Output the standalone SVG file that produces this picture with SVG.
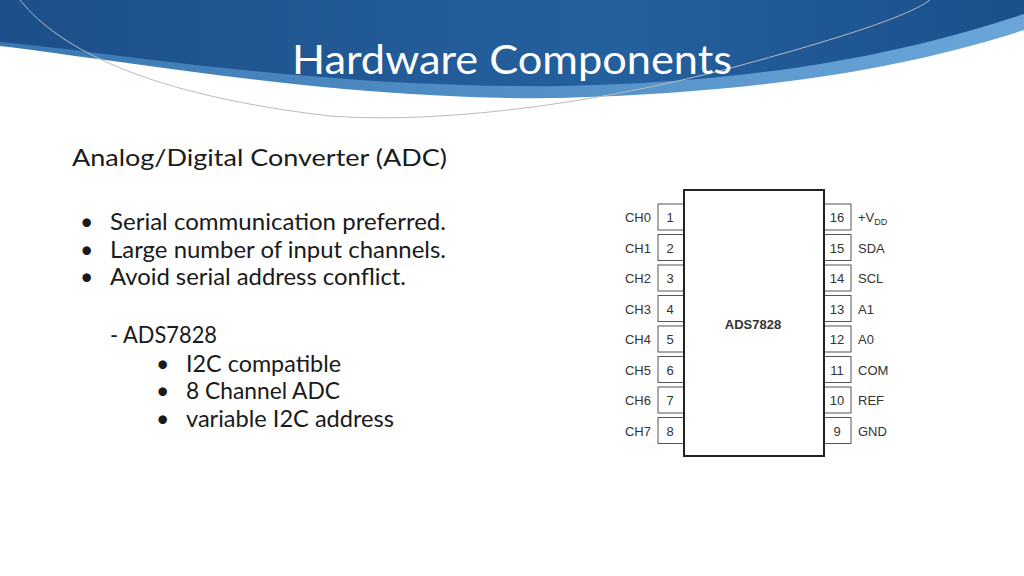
<svg xmlns="http://www.w3.org/2000/svg" width="1024" height="576" viewBox="0 0 1024 576">
<defs>
<linearGradient id="bg" x1="0" y1="0" x2="1" y2="0">
<stop offset="0" stop-color="#1d4f8a"/><stop offset="0.6" stop-color="#24609e"/><stop offset="1" stop-color="#1b4f8c"/>
</linearGradient>
<linearGradient id="lb" x1="0" y1="0" x2="1" y2="0">
<stop offset="0" stop-color="#3a78b4"/><stop offset="1" stop-color="#6aa6d8"/>
</linearGradient>
</defs>
<style>
.t{font-family:Lato,"Liberation Sans",sans-serif;fill:#1a1a1a;font-size:23px}
.p{font-family:"Liberation Sans",Arial,sans-serif;font-size:13px;fill:#333}
.pin{fill:#fff;stroke:#555;stroke-width:1}
</style>
<rect width="1024" height="576" fill="#fff"/>
<path d="M0,0 H1024 V30 C900,70 760,92 560,98 C400,100 250,80 120,62 C60,54 20,48 0,46 Z" fill="url(#lb)"/>
<path d="M0,0 H1024 V14 C900,55 760,82 560,86 C400,88 250,72 120,56 C60,48 20,44 0,42 Z" fill="url(#bg)"/>
<path d="M20,0 C60,50 150,95 330,116 C450,125 620,100 760,60 C850,35 910,15 930,0" fill="none" stroke="#bbb" stroke-width="1"/>
<text x="512" y="74" text-anchor="middle" font-family="Lato,'Open Sans',sans-serif" font-size="40" fill="#fff" textLength="440" lengthAdjust="spacingAndGlyphs">Hardware Components</text>
<text class="t" x="72" y="166" textLength="375" lengthAdjust="spacingAndGlyphs">Analog/Digital Converter (ADC)</text>
<g class="t">
<text x="80" y="230">•</text><text x="110" y="230" textLength="336" lengthAdjust="spacingAndGlyphs">Serial communication preferred.</text>
<text x="80" y="258">•</text><text x="110" y="258" textLength="336" lengthAdjust="spacingAndGlyphs">Large number of input channels.</text>
<text x="80" y="285">•</text><text x="110" y="285" textLength="296" lengthAdjust="spacingAndGlyphs">Avoid serial address conflict.</text>
<text x="110" y="343" textLength="107" lengthAdjust="spacingAndGlyphs">- ADS7828</text>
<text x="156" y="372">•</text><text x="186" y="372" textLength="155" lengthAdjust="spacingAndGlyphs">I2C compatible</text>
<text x="156" y="399">•</text><text x="186" y="399" textLength="154" lengthAdjust="spacingAndGlyphs">8 Channel ADC</text>
<text x="156" y="427">•</text><text x="186" y="427" textLength="208" lengthAdjust="spacingAndGlyphs">variable I2C address</text>
</g>
<g id="chip">
<g class="pins">
<rect class="pin" x="658" y="204" width="26" height="26"/><rect class="pin" x="658" y="234.5" width="26" height="26"/>
<rect class="pin" x="658" y="265" width="26" height="26"/><rect class="pin" x="658" y="295.5" width="26" height="26"/>
<rect class="pin" x="658" y="326" width="26" height="26"/><rect class="pin" x="658" y="356.5" width="26" height="26"/>
<rect class="pin" x="658" y="387" width="26" height="26"/><rect class="pin" x="658" y="417.5" width="26" height="26"/>
<rect class="pin" x="824" y="204" width="27" height="26"/><rect class="pin" x="824" y="234.5" width="27" height="26"/>
<rect class="pin" x="824" y="265" width="27" height="26"/><rect class="pin" x="824" y="295.5" width="27" height="26"/>
<rect class="pin" x="824" y="326" width="27" height="26"/><rect class="pin" x="824" y="356.5" width="27" height="26"/>
<rect class="pin" x="824" y="387" width="27" height="26"/><rect class="pin" x="824" y="417.5" width="27" height="26"/>
</g>
<rect x="684" y="190" width="140" height="266" fill="#fff" stroke="#222" stroke-width="2"/>
<text x="753" y="329" text-anchor="middle" font-family="Liberation Sans,Arial,sans-serif" font-size="13" font-weight="bold" fill="#333">ADS7828</text>
<g class="p" text-anchor="end">
<text x="651" y="222">CH0</text><text x="651" y="252.5">CH1</text><text x="651" y="283">CH2</text><text x="651" y="313.5">CH3</text>
<text x="651" y="344">CH4</text><text x="651" y="374.5">CH5</text><text x="651" y="405">CH6</text><text x="651" y="435.5">CH7</text>
</g>
<g class="p" text-anchor="middle">
<text x="670" y="222">1</text><text x="670" y="252.5">2</text><text x="670" y="283">3</text><text x="670" y="313.5">4</text>
<text x="670" y="344">5</text><text x="670" y="374.5">6</text><text x="670" y="405">7</text><text x="670" y="435.5">8</text>
<text x="837" y="222">16</text><text x="837" y="252.5">15</text><text x="837" y="283">14</text><text x="837" y="313.5">13</text>
<text x="837" y="344">12</text><text x="837" y="374.5">11</text><text x="837" y="405">10</text><text x="837" y="435.5">9</text>
</g>
<g class="p">
<text x="858" y="222">+V<tspan font-size="9" dy="3">DD</tspan></text><text x="858" y="252.5">SDA</text><text x="858" y="283">SCL</text><text x="858" y="313.5">A1</text>
<text x="858" y="344">A0</text><text x="858" y="374.5">COM</text><text x="858" y="405">REF</text><text x="858" y="435.5">GND</text>
</g>
</g>
</svg>
